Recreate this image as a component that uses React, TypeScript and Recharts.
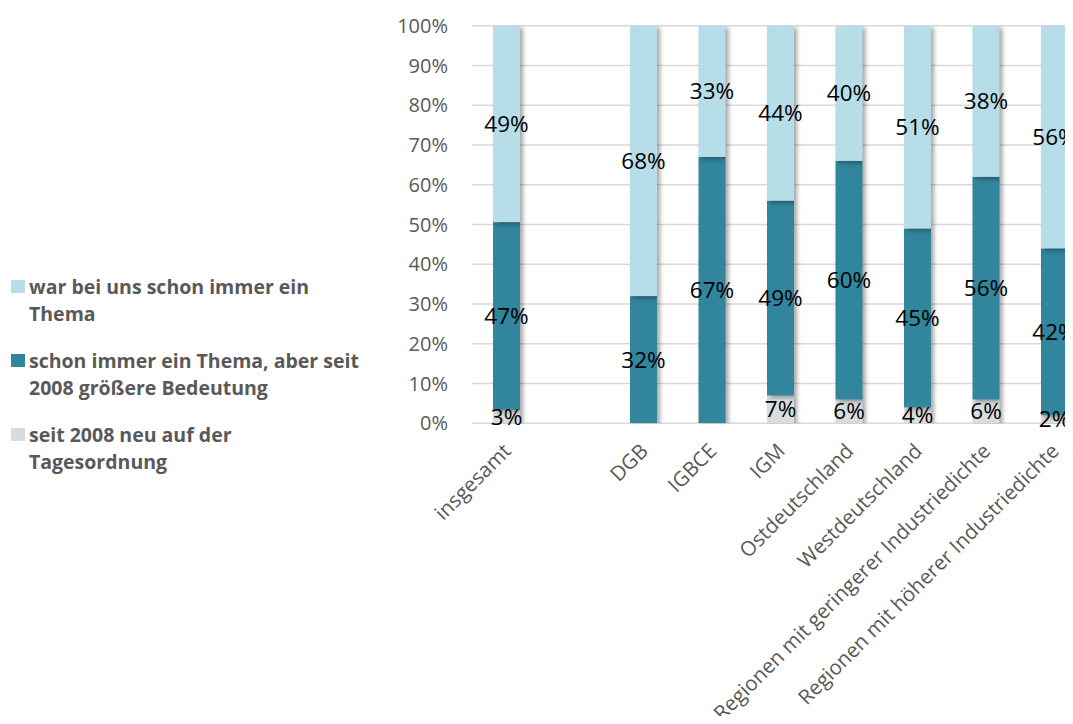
import React from 'react';
import { BarChart, Bar, XAxis, YAxis, CartesianGrid, Legend, LabelList } from 'recharts';

const categories = [
  'insgesamt',
  '',
  'DGB',
  'IGBCE',
  'IGM',
  'Ostdeutschland',
  'Westdeutschland',
  'Regionen mit geringerer Industriedichte',
  'Regionen mit höherer Industriedichte',
];

// values in percent, bottom to top
const neuSeit2008 = [3.4, null, 0, 0, 7, 6, 4, 6, 2];
const groessereBedeutung = [47.2, null, 32, 67, 49, 60, 45, 56, 42];
const immerThema = [49.4, null, 68, 33, 44, 40, 51, 38, 56];

const yTicks = [0, 10, 20, 30, 40, 50, 60, 70, 80, 90, 100];

const legendItems = [
  { lines: ['war bei uns schon immer ein', 'Thema'], color: '#b7dde8' },
  { lines: ['schon immer ein Thema, aber seit', '2008 größere Bedeutung'], color: '#31859c' },
  { lines: ['seit 2008 neu auf der', 'Tagesordnung'], color: '#d9dcde' },
];

const data = categories.map((c, i) => ({
  name: c,
  neu: neuSeit2008[i],
  groesser: groessereBedeutung[i],
  immer: immerThema[i],
}));

const pct = (v: any) => (v ? `${Math.round(v)}%` : '');

const ShadowBar = (props: any) => {
  const { x, y, width, height, fill } = props;
  if (!height || height <= 0) return null;
  return (
    <rect
      x={x}
      y={y}
      width={width}
      height={height}
      fill={fill}
      style={{ filter: 'drop-shadow(3px 2px 2px rgba(0,0,0,0.35))' }}
    />
  );
};

const AngledTick = (props: any) => {
  const { x, y, payload } = props;
  const px = x + 6;
  const py = y + 29;
  return (
    <text
      x={px}
      y={py}
      textAnchor="end"
      transform={`rotate(-45 ${px} ${py})`}
      fill="#595959"
      fontSize={20.5}
    >
      {payload.value}
    </text>
  );
};

const renderLegend = () => (
  <div style={{ position: 'relative', width: 380, height: 220 }}>
    {legendItems.map((item, i) => (
      <div key={i} style={{ position: 'absolute', left: 0, top: i * 74 }}>
        <div
          style={{
            position: 'absolute',
            left: 3,
            top: 7,
            width: 14,
            height: 13,
            background: item.color,
          }}
        />
        <div
          style={{
            position: 'absolute',
            left: 21,
            top: 0,
            whiteSpace: 'nowrap',
            fontWeight: 700,
            fontSize: 19.5,
            lineHeight: '27px',
            color: '#595959',
          }}
        >
          {item.lines.map((l, j) => (
            <div key={j}>{l}</div>
          ))}
        </div>
      </div>
    ))}
  </div>
);

export default function App() {
  return (
    <div style={{ width: 1065, height: 708, overflow: 'hidden', fontFamily: '"Open Sans", sans-serif' }}>
      <BarChart
        width={1090}
        height={708}
        data={data}
        margin={{ top: 17.7, right: 9.5, bottom: 0, left: 0 }}
        barSize={27}
      >
        <CartesianGrid vertical={false} stroke="#d9d9d9" strokeWidth={1.5} />
        <XAxis
          dataKey="name"
          interval={0}
          axisLine={false}
          tickLine={false}
          tickSize={0}
          tickMargin={0}
          height={292.7}
          tick={<AngledTick />}
        />
        <YAxis
          domain={[0, 100]}
          ticks={yTicks}
          allowDataOverflow
          axisLine={false}
          tickLine={false}
          tickSize={0}
          tickMargin={24}
          width={464}
          tickFormatter={(v) => `${v}%`}
          tick={{ fill: '#595959', fontSize: 20 }}
        />
        <Legend
          layout="vertical"
          align="center"
          verticalAlign="middle"
          wrapperStyle={{ left: 0, top: 264.5, width: 380, height: 220 }}
          content={renderLegend}
        />
        <Bar dataKey="neu" stackId="a" fill="#d9dcde" isAnimationActive={false} shape={<ShadowBar />}>
          <LabelList dataKey="neu" position="center" formatter={pct} fill="#000" fontSize={22.5} />
        </Bar>
        <Bar dataKey="groesser" stackId="a" fill="#31859c" isAnimationActive={false} shape={<ShadowBar />}>
          <LabelList dataKey="groesser" position="center" formatter={pct} fill="#000" fontSize={22.5} />
        </Bar>
        <Bar dataKey="immer" stackId="a" fill="#b7dde8" isAnimationActive={false} shape={<ShadowBar />}>
          <LabelList dataKey="immer" position="center" formatter={pct} fill="#000" fontSize={22.5} />
        </Bar>
      </BarChart>
    </div>
  );
}
